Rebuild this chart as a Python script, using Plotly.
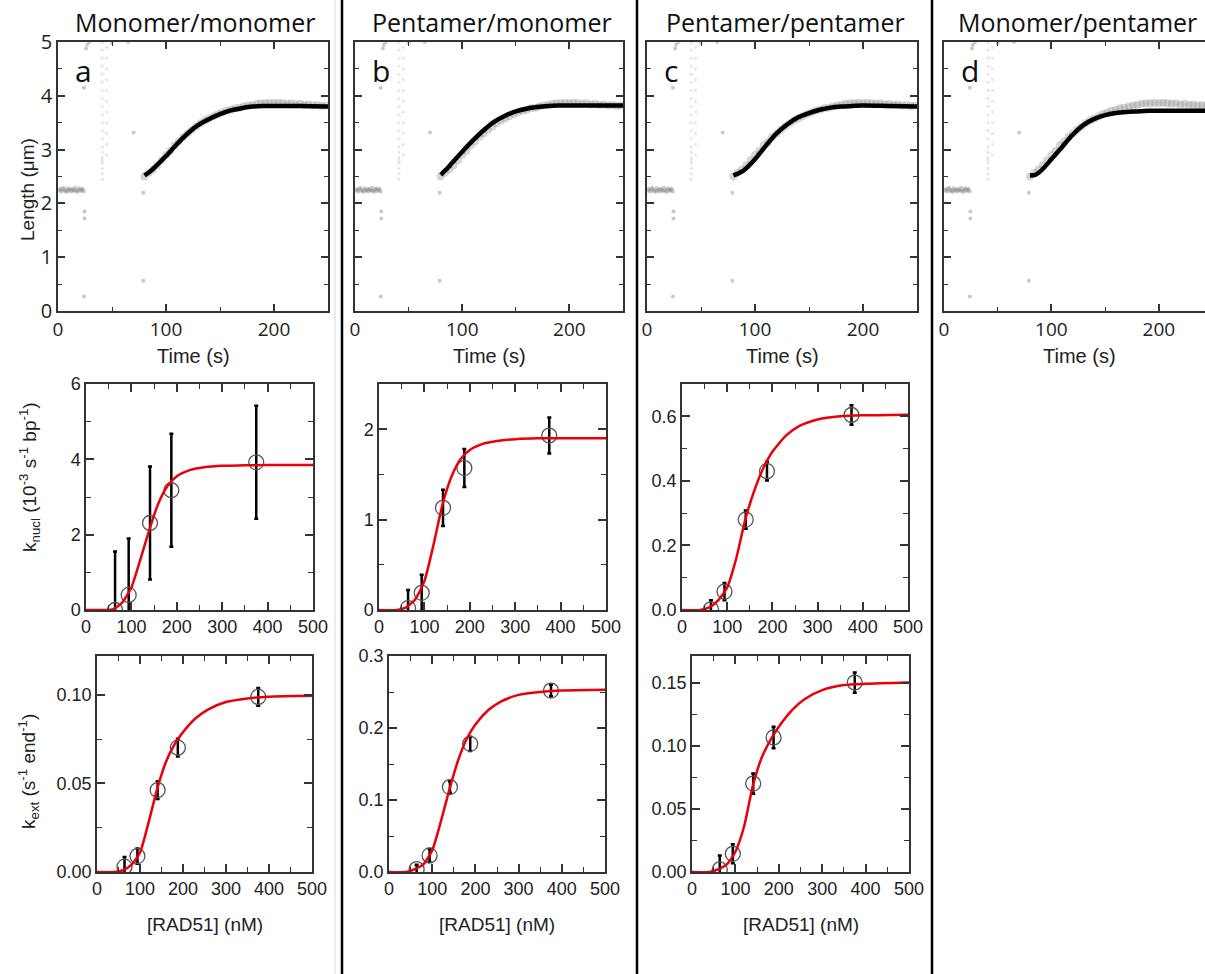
import plotly.graph_objects as go

W, H = 1205, 974
def px(x): return x / W
def py(y): return 1 - y / H

# ---------------- DATA ----------------
# Top row: raw length traces (grey) shared by all four panels
raw_flat_t = [1, 2, 3, 4, 5, 6, 7, 8, 9, 10, 11, 12, 13, 14, 15, 16, 17, 18, 19, 20, 21, 22, 23, 24]
raw_flat_len = [2.24, 2.27, 2.22, 2.26, 2.29, 2.23, 2.25, 2.21, 2.28, 2.24, 2.26, 2.22,
                2.27, 2.25, 2.23, 2.29, 2.24, 2.21, 2.26, 2.28, 2.23, 2.25, 2.27, 2.22]
raw_spike_t = [24, 24.5, 24.5, 24, 26, 27, 29, 50, 65, 70, 79, 79]
raw_spike_len = [4.15, 1.85, 1.72, 0.27, 4.88, 4.95, 5.0, 4.98, 5.0, 3.32, 2.2, 0.56]
raw_col1_t = [41] * 21
raw_col1_len = [2.45, 2.55, 2.65, 2.75, 2.8, 2.85, 2.95, 3.05, 3.2, 3.35, 3.5, 3.65, 3.8,
                3.95, 4.1, 4.25, 4.4, 4.55, 4.7, 4.85, 4.98]
raw_col2_t = [45] * 11
raw_col2_len = [2.9, 3.1, 3.3, 3.5, 3.7, 3.9, 4.1, 4.3, 4.5, 4.7, 4.9]
raw_grow_t = [80, 84, 88, 92, 96, 100, 104, 108, 112, 116, 120, 124, 128, 132, 136, 140, 144,
              148, 152, 156, 160, 164, 168, 172, 176, 180, 184, 188, 192, 196, 200, 204, 208,
              212, 216, 220, 224, 228, 232, 236, 240, 244, 248]
raw_grow_len = [2.50, 2.57, 2.63, 2.71, 2.80, 2.90, 2.98, 3.08, 3.15, 3.24, 3.30, 3.37, 3.43,
                3.49, 3.54, 3.58, 3.62, 3.66, 3.69, 3.72, 3.74, 3.77, 3.78, 3.80, 3.82, 3.83,
                3.85, 3.86, 3.86, 3.87, 3.86, 3.87, 3.86, 3.85, 3.86, 3.84, 3.85, 3.83, 3.84,
                3.82, 3.83, 3.81, 3.82]

# Top row: fitted growth curves (black)
fit_t = [80, 85, 90, 100, 110, 120, 130, 140, 150, 160, 170, 180, 190, 200, 225, 250]
fit_a = [2.52, 2.59, 2.68, 2.88, 3.10, 3.30, 3.46, 3.57, 3.66, 3.73, 3.77, 3.80, 3.81, 3.81, 3.81, 3.80]
fit_b = [2.53, 2.63, 2.74, 2.96, 3.17, 3.36, 3.52, 3.63, 3.71, 3.76, 3.79, 3.81, 3.82, 3.82, 3.82, 3.82]
fit_c = [2.52, 2.56, 2.62, 2.82, 3.07, 3.30, 3.47, 3.60, 3.68, 3.74, 3.78, 3.80, 3.81, 3.82, 3.81, 3.80]
fit_d = [2.52, 2.53, 2.60, 2.82, 3.05, 3.28, 3.46, 3.57, 3.64, 3.68, 3.70, 3.71, 3.72, 3.72, 3.72, 3.72]

# RAD51 concentrations (nM)
rad51 = [64, 94, 141, 188, 375]
conc_fit = [0, 40, 60, 80, 100, 120, 140, 160, 180, 200, 230, 260, 300, 350, 400, 500]

# Middle row: k_nucl
knucl_a = [0.0, 0.4, 2.31, 3.18, 3.92]
knucl_a_err = [1.55, 1.5, 1.5, 1.5, 1.5]
knucl_a_fit = [0, 0, 0.02, 0.2, 0.6, 1.35, 2.15, 2.85, 3.3, 3.55, 3.72, 3.79, 3.83, 3.84, 3.85, 3.85]
knucl_b = [0.02, 0.19, 1.13, 1.57, 1.93]
knucl_b_err = [0.2, 0.2, 0.2, 0.21, 0.2]
knucl_b_fit = [0, 0, 0.03, 0.12, 0.32, 0.72, 1.17, 1.48, 1.67, 1.77, 1.84, 1.87, 1.89, 1.90, 1.90, 1.90]
knucl_c = [0.002, 0.057, 0.28, 0.43, 0.604]
knucl_c_err = [0.028, 0.027, 0.028, 0.029, 0.03]
knucl_c_fit = [0, 0, 0.008, 0.03, 0.07, 0.16, 0.28, 0.37, 0.44, 0.49, 0.54, 0.57, 0.59, 0.60, 0.603, 0.605]

# Bottom row: k_ext
kext_a = [0.003, 0.009, 0.0463, 0.0702, 0.0989]
kext_a_err = [0.0055, 0.0043, 0.005, 0.005, 0.005]
kext_a_fit = [0, 0, 0.001, 0.004, 0.011, 0.028, 0.047, 0.062, 0.072, 0.079, 0.087, 0.092, 0.096, 0.098, 0.099, 0.0995]
kext_b = [0.004, 0.023, 0.118, 0.178, 0.252]
kext_b_err = [0.006, 0.009, 0.008, 0.01, 0.008]
kext_b_fit = [0, 0, 0.004, 0.011, 0.03, 0.07, 0.115, 0.155, 0.185, 0.205, 0.225, 0.237, 0.246, 0.25, 0.252, 0.253]
kext_c = [0.002, 0.0144, 0.070, 0.1065, 0.150]
kext_c_err = [0.011, 0.0075, 0.008, 0.0085, 0.008]
kext_c_fit = [0, 0, 0.002, 0.006, 0.016, 0.036, 0.068, 0.09, 0.104, 0.115, 0.128, 0.137, 0.144, 0.148, 0.149, 0.15]

titles = ["Monomer/monomer", "Pentamer/monomer", "Pentamer/pentamer", "Monomer/pentamer"]
letters = ["a", "b", "c", "d"]

# ---------------- LAYOUT GEOMETRY (pixels) ----------------
top_x = [(58, 328), (355, 623), (647, 917), (944, 1205)]
top_y = (42, 311)
mid_x = [(86, 313), (379, 606), (682, 908)]
mid_y = (384, 610)
bot_x = [(97, 312), (389, 605), (692, 909)]
bot_y = (656, 872)

AX = "#333333"
sans = "Liberation Sans, Arial, sans-serif"
humanist = "Open Sans, Noto Sans, sans-serif"

def xdom(p): return [px(p[0]), px(p[1])]
def ydom(p): return [py(p[1]), py(p[0])]

def axis(dom, rng, dtick, mdtick, labels=True, font=None, fmt=None, mirror="ticks", tl=7, mtl=4):
    d = dict(domain=dom, range=rng, showline=True, linecolor=AX, linewidth=1.5,
             mirror=mirror, ticks="inside", ticklen=tl, tickwidth=1.5, tickcolor=AX,
             tick0=0, dtick=dtick, showgrid=False, zeroline=False, automargin=False,
             showticklabels=labels, tickfont=font or dict(family=sans, size=18, color="#222"),
             minor=dict(dtick=mdtick, tick0=0, ticks="inside", ticklen=mtl, tickwidth=1.2,
                        tickcolor=AX, showgrid=False))
    if fmt:
        d["tickformat"] = fmt
    return d

fig = go.Figure()
layout = {}
top_font_x = dict(family=humanist, size=19, color="#222")
top_font_y = dict(family=humanist, size=20, color="#222")

fits_top = [fit_a, fit_b, fit_c, fit_d]
for i in range(4):
    n = i + 1
    xr = [0, 250] if i < 3 else [0, 243]
    layout[f"xaxis{n}"] = axis(xdom(top_x[i]), xr, 100, 50, True, top_font_x)
    layout[f"xaxis{n}"]["anchor"] = f"y{n}"
    layout[f"yaxis{n}"] = axis(ydom(top_y), [0, 5], 1, 0.5, i == 0, top_font_y,
                               mirror=("ticks" if i < 3 else False))
    layout[f"yaxis{n}"]["anchor"] = f"x{n}"
    xs, ys = f"x{n}", f"y{n}"
    fig.add_trace(go.Scatter(x=raw_col1_t + raw_col2_t, y=raw_col1_len + raw_col2_len, mode="markers",
                             marker=dict(size=3, color="rgba(150,150,150,0.25)"),
                             xaxis=xs, yaxis=ys, showlegend=False))
    fig.add_trace(go.Scatter(x=raw_flat_t + raw_spike_t, y=raw_flat_len + raw_spike_len, mode="markers",
                             marker=dict(size=4, color="rgba(120,120,120,0.4)"),
                             xaxis=xs, yaxis=ys, showlegend=False))
    fig.add_trace(go.Scatter(x=raw_grow_t, y=raw_grow_len, mode="markers",
                             marker=dict(size=8, color="rgba(120,120,120,0.3)"),
                             xaxis=xs, yaxis=ys, showlegend=False))
    fig.add_trace(go.Scatter(x=fit_t, y=fits_top[i], mode="lines",
                             line=dict(color="black", width=4.5, shape="spline", smoothing=0.8),
                             xaxis=xs, yaxis=ys, showlegend=False))

mid_sets = [(knucl_a, knucl_a_err, knucl_a_fit, [0, 6], 2, 1, None),
            (knucl_b, knucl_b_err, knucl_b_fit, [0, 2.5], 1, 0.5, None),
            (knucl_c, knucl_c_err, knucl_c_fit, [0, 0.7], 0.2, 0.1, ".1f")]
bot_sets = [(kext_a, kext_a_err, kext_a_fit, [0, 0.122], 0.05, 0.025, ".2f"),
            (kext_b, kext_b_err, kext_b_fit, [0, 0.3], 0.1, 0.05, ".1f"),
            (kext_c, kext_c_err, kext_c_fit, [0, 0.171], 0.05, 0.025, ".2f")]

def add_rate_panel(n, xd, yd, data):
    vals, errs, fitv, yr, dt, mdt, fmt = data
    layout[f"xaxis{n}"] = axis(xdom(xd), [0, 500], 100, 50, True, tl=8, mtl=5)
    layout[f"xaxis{n}"]["anchor"] = f"y{n}"
    layout[f"yaxis{n}"] = axis(ydom(yd), yr, dt, mdt, True, fmt=fmt, tl=8, mtl=5)
    layout[f"yaxis{n}"]["anchor"] = f"x{n}"
    xs, ys = f"x{n}", f"y{n}"
    fig.add_trace(go.Scatter(x=rad51, y=vals, mode="markers",
                             marker=dict(symbol="circle-open", size=15, color="#555",
                                         line=dict(width=1.3, color="#555")),
                             error_y=dict(type="data", array=errs, color="black",
                                          thickness=2.5, width=2),
                             xaxis=xs, yaxis=ys, showlegend=False))
    fig.add_trace(go.Scatter(x=conc_fit, y=fitv, mode="lines",
                             line=dict(color="#e8000b", width=2.5, shape="spline", smoothing=0.6),
                             xaxis=xs, yaxis=ys, showlegend=False))

for i in range(3):
    add_rate_panel(5 + i, mid_x[i], mid_y, mid_sets[i])
    add_rate_panel(8 + i, bot_x[i], bot_y, bot_sets[i])

# ---------------- ANNOTATIONS ----------------
ann = []
title_cx = [195, 492, 785, 1077]
for i in range(4):
    ann.append(dict(text=titles[i], x=px(title_cx[i]), y=py(22), xref="paper", yref="paper",
                    showarrow=False, xanchor="center", yanchor="middle",
                    font=dict(family=humanist, size=25, color="#111")))
    ann.append(dict(text=letters[i], x=px(top_x[i][0] + 15), y=py(70), xref="paper", yref="paper",
                    showarrow=False, xanchor="left", yanchor="middle",
                    font=dict(family=humanist, size=30, color="#111")))
    cx = (top_x[i][0] + (top_x[i][1] if i < 3 else 1214)) / 2
    ann.append(dict(text="Time (s)", x=px(cx), y=py(356), xref="paper", yref="paper",
                    showarrow=False, xanchor="center", yanchor="middle",
                    font=dict(family=sans, size=20, color="#222")))
for i in range(3):
    ann.append(dict(text="[RAD51] (nM)", x=px((bot_x[i][0] + bot_x[i][1]) / 2), y=py(924),
                    xref="paper", yref="paper", showarrow=False, xanchor="center", yanchor="middle",
                    font=dict(family=sans, size=19, color="#222")))
ann.append(dict(text="Length (μm)", x=px(27), y=py(190), xref="paper", yref="paper",
                showarrow=False, textangle=-90, xanchor="center", yanchor="middle",
                font=dict(family=sans, size=19, color="#222")))
ann.append(dict(text="k<sub>nucl</sub> (10<sup>-3</sup> s<sup>-1</sup> bp<sup>-1</sup>)",
                x=px(29), y=py(477), xref="paper", yref="paper", showarrow=False, textangle=-90,
                xanchor="center", yanchor="middle", font=dict(family=sans, size=19, color="#222")))
ann.append(dict(text="k<sub>ext</sub> (s<sup>-1</sup> end<sup>-1</sup>)",
                x=px(28), y=py(772), xref="paper", yref="paper", showarrow=False, textangle=-90,
                xanchor="center", yanchor="middle", font=dict(family=sans, size=19, color="#222")))

shapes = [dict(type="line", xref="paper", yref="paper", x0=px(335), x1=px(335), y0=0, y1=1,
               line=dict(color="#d8d8d8", width=1))]
for xv in [342, 637, 932]:
    shapes.append(dict(type="line", xref="paper", yref="paper", x0=px(xv), x1=px(xv), y0=0, y1=1,
                       line=dict(color="black", width=2.5)))

fig.update_layout(template="none", width=W, height=H, autosize=False,
                  margin=dict(l=0, r=0, t=0, b=0, pad=0),
                  paper_bgcolor="white", plot_bgcolor="white",
                  annotations=ann, shapes=shapes, showlegend=False, **layout)

fig.write_html("out.html", config={"displayModeBar": False},
               post_script="document.body.style.margin='0px';document.body.style.overflow='hidden';")
